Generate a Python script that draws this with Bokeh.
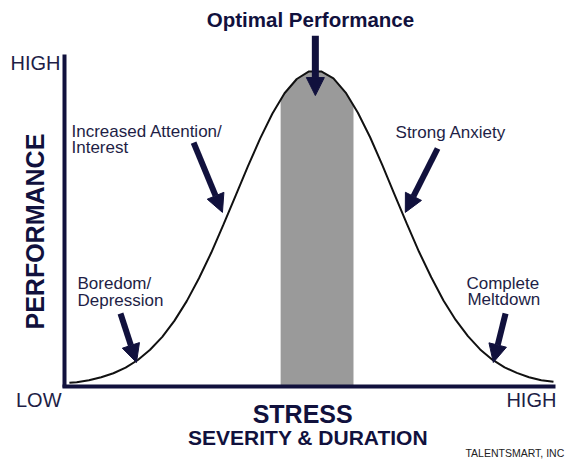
import math
import numpy as np
from bokeh.plotting import figure
from bokeh.models import Label, Arrow, NormalHead, Range1d, FixedTicker
from bokeh.embed import file_html
from bokeh.resources import INLINE

# ---- data (stress 0..100, performance 0..100) ----
stress = [1, 2.5, 5, 7.5, 10, 12.5, 15, 17.5, 20, 22.5, 25, 27.5, 30, 32.5, 35,
          37.5, 40, 42.5, 45, 47.5, 50, 52.5, 55, 57.5, 60, 62.5, 65, 67.5, 70,
          72.5, 75, 77.5, 80, 82.5, 85, 87.5, 90, 92.5, 95, 97.5, 100]
performance = [1.1, 1.3, 1.9, 2.8, 4.0, 5.7, 8.0, 11.1, 15.0, 19.9, 25.8, 32.7, 40.4,
               48.9, 57.7, 66.5, 74.9, 82.4, 88.6, 92.9, 95.2, 95.2, 93.1, 88.8, 82.7,
               75.3, 66.9, 58.0, 49.2, 40.7, 33.0, 26.0, 20.1, 15.2, 11.2, 8.1, 5.8,
               4.1, 2.8, 1.9, 1.4]
optimal_zone = [44.2, 59.1]

axis_labels = {"y_high": "HIGH", "y_low": "LOW", "x_high": "HIGH"}
zone_labels = ["Boredom/\nDepression", "Increased Attention/\nInterest",
               "Optimal Performance", "Strong Anxiety", "Complete\nMeltdown"]

FONT = "Liberation Sans"
NAVY = "#11113d"
TXT = "#1e1e46"
PX_PER_UNIT_Y = 3.31

p = figure(width=570, height=461, output_backend="svg", toolbar_location=None,
           x_range=Range1d(-13.09, 103.48), y_range=Range1d(-22.66, 116.62),
           min_border=0)
p.outline_line_color = None
p.grid.visible = False
p.background_fill_color = "white"
p.border_fill_color = "white"
for ax in (p.xaxis, p.yaxis):
    ax.fixed_location = 0
    ax.axis_line_width = 4
    ax.axis_line_color = NAVY
    ax.ticker = FixedTicker(ticks=[])
    ax.major_tick_line_color = None
    ax.minor_tick_line_color = None
    ax.major_label_text_font_size = "0px"
    ax.major_tick_out = 0
    ax.major_tick_in = 0
    ax.minor_tick_out = 0
p.xaxis.bounds = (-0.4, 100.4)
p.yaxis.bounds = (-0.3, 100.3)

# optimal zone band (under the curve)
lo, hi = optimal_zone
xs = [lo] + [x for x in stress if lo < x < hi] + [hi]
ys = list(np.interp(xs, stress, performance))
p.varea(x=xs, y1=[0] * len(xs), y2=ys, fill_color="#9a9a9a")

# the curve
p.line(stress, performance, line_color="#111111", line_width=2)

def arrow(x0, y0, x1, y1, w=6, size=18):
    p.add_layout(Arrow(x_start=x0, y_start=y0, x_end=x1, y_end=y1,
                       line_color=NAVY, line_width=w,
                       end=NormalHead(size=size, fill_color=NAVY,
                                      line_color=NAVY, line_width=1)))

def label(x, y, text, size=17, bold=False, align="left", color=TXT,
          angle=0.0, baseline="alphabetic"):
    if baseline == "alphabetic":
        y = y + 0.36 * size / PX_PER_UNIT_Y
    p.add_layout(Label(x=x, y=y, text=text, text_font=FONT,
                       text_font_size=f"{size}px",
                       text_font_style="bold" if bold else "normal",
                       text_align=align, text_baseline=baseline,
                       text_color=color, angle=angle))

# zone annotations
b1, b2 = zone_labels[0].split("\n")
label(2.66, 29.3, b1)
label(2.66, 24.2, b2)
arrow(11.45, 22.05, 14.72, 7.25)

i1, i2 = zone_labels[1].split("\n")
label(1.43, 75.2, i1)
label(1.43, 70.4, i2)
arrow(26.4, 73.7, 32.3, 52.6)

label(50.3, 108.5, zone_labels[2], size=20.5, bold=True, align="center", color=NAVY)
arrow(51.3, 106.0, 51.3, 87.9, w=7, size=18)

label(67.7, 74.9, zone_labels[3])
arrow(76.3, 71.9, 69.7, 52.6)

c1, c2 = zone_labels[4].split("\n")
label(82.2, 29.3, c1)
label(82.4, 24.5, c2)
arrow(90.2, 22.05, 87.7, 7.25)

# axis end labels and titles
label(-0.82, 95.5, axis_labels["y_high"], size=20, align="right")
label(-0.61, -6.3, axis_labels["y_low"], size=20, align="right")
label(100.6, -6.3, axis_labels["x_high"], size=20, align="right")
label(-6.13, 46.8, "PERFORMANCE", size=25, bold=True, align="center",
      color=NAVY, angle=math.pi / 2, baseline="middle")
label(48.7, -10.9, "STRESS", size=25, bold=True, align="center", color=NAVY)
label(49.8, -17.8, "SEVERITY & DURATION", size=21, bold=True,
      align="center", color=NAVY)
label(102.2, -21.3, "TALENTSMART, INC", size=10.5, align="right", color="#222222")

open("out.html", "w").write(file_html(p, INLINE))
